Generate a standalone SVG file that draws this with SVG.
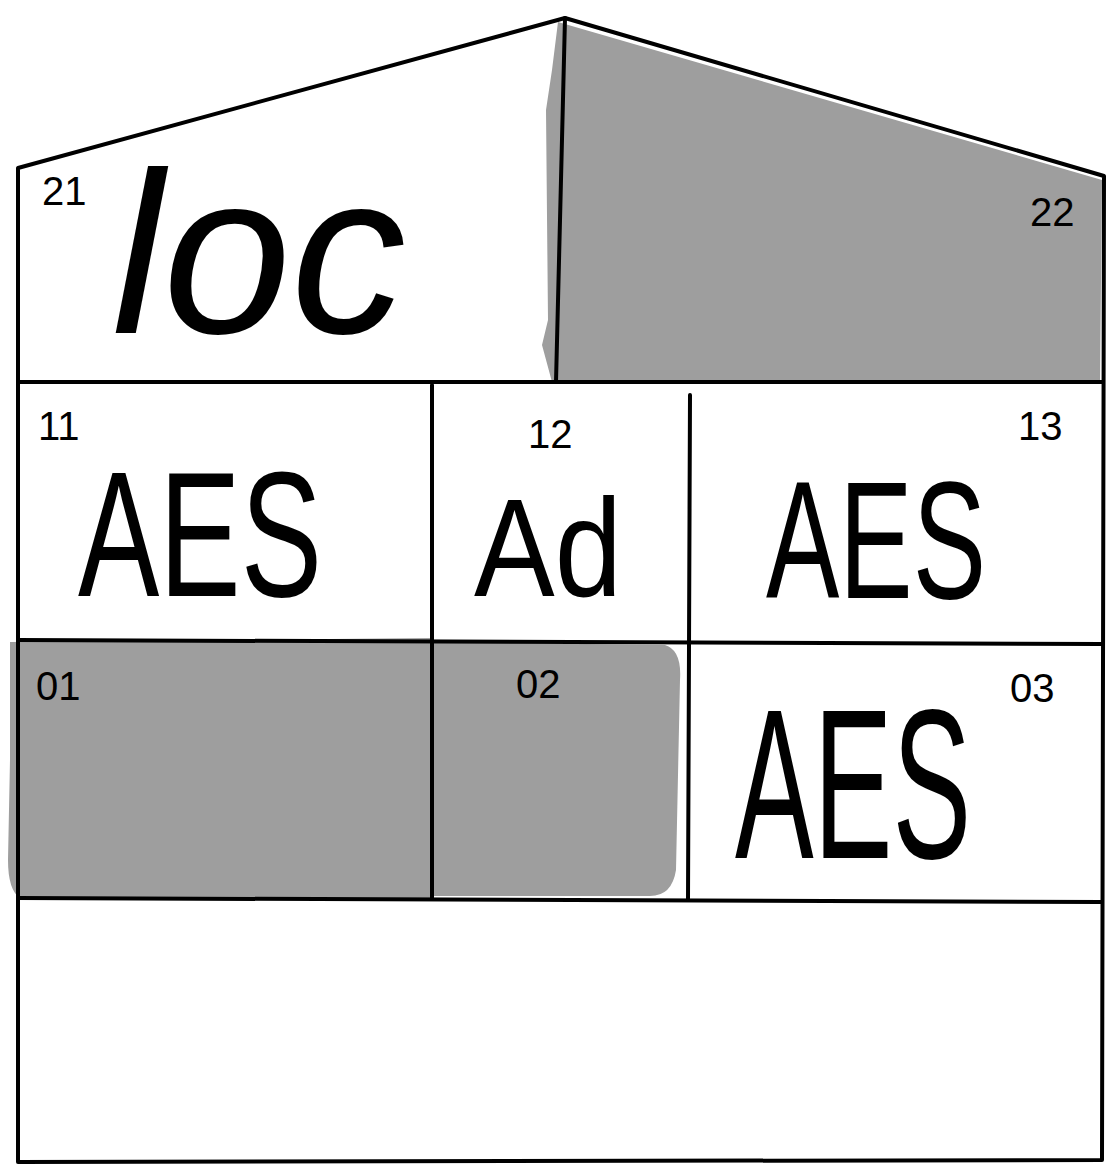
<svg xmlns="http://www.w3.org/2000/svg" width="1106" height="1169" viewBox="0 0 1106 1169">
<style>
.w{fill:none;stroke:#000;stroke-width:4;stroke-linecap:round;stroke-linejoin:round}
.g{fill:#9e9e9e;stroke:none}
.n{font-family:"Liberation Sans",Arial,sans-serif;font-size:40px;fill:#000}
.b{font-family:"Liberation Sans",Arial,sans-serif;fill:#000}
</style>
<rect width="1106" height="1169" fill="#fff"/>
<g id="room22">
<polygon class="g" points="558,22 1102,180 1100,382 552,382 542,345 548,320 546,110 552,70"/>
<text class="n" x="1030" y="226">22</text>
</g>
<g id="room01">
<path class="g" d="M10,642 L432,638 L432,898 L20,898 Q8,890 8,860 L10,760 Z"/>
<text class="n" x="36" y="700">01</text>
</g>
<g id="room02">
<path class="g" d="M432,642 L665,645 Q682,650 680,680 L676,870 Q672,896 650,896 L432,896 Z"/>
<text class="n" x="516" y="698">02</text>
</g>
<g id="walls">
<polyline class="w" points="18,1162 18,168 565,18 1104,176 1102,1160 18,1162"/>
<line class="w" x1="565" y1="18" x2="556" y2="382"/>
<line class="w" x1="18" y1="382" x2="1102" y2="382"/>
<line class="w" x1="18" y1="640" x2="1102" y2="644"/>
<line class="w" x1="18" y1="898" x2="1102" y2="902"/>
<line class="w" x1="432" y1="385" x2="432" y2="898"/>
<line class="w" x1="690" y1="395" x2="688" y2="900"/>
</g>
<g id="room21">
<text class="n" x="42" y="205">21</text>
<text class="b" x="112" y="333" font-size="230" font-style="italic">loc</text>
</g>
<g id="room11">
<text class="n" x="38" y="440">11</text>
<text class="b" transform="translate(78,596) scale(1,1.46)" font-size="122">AES</text>
</g>
<g id="room12">
<text class="n" x="528" y="448">12</text>
<text class="b" transform="translate(474,596) scale(1,1.15)" font-size="121">Ad</text>
</g>
<g id="room13">
<text class="n" x="1018" y="440">13</text>
<text class="b" transform="translate(766,598) scale(1,1.52)" font-size="110">AES</text>
</g>
<g id="room03">
<text class="n" x="1010" y="702">03</text>
<text class="b" transform="translate(735,858) scale(1,1.81)" font-size="118">AES</text>
</g>
</svg>
